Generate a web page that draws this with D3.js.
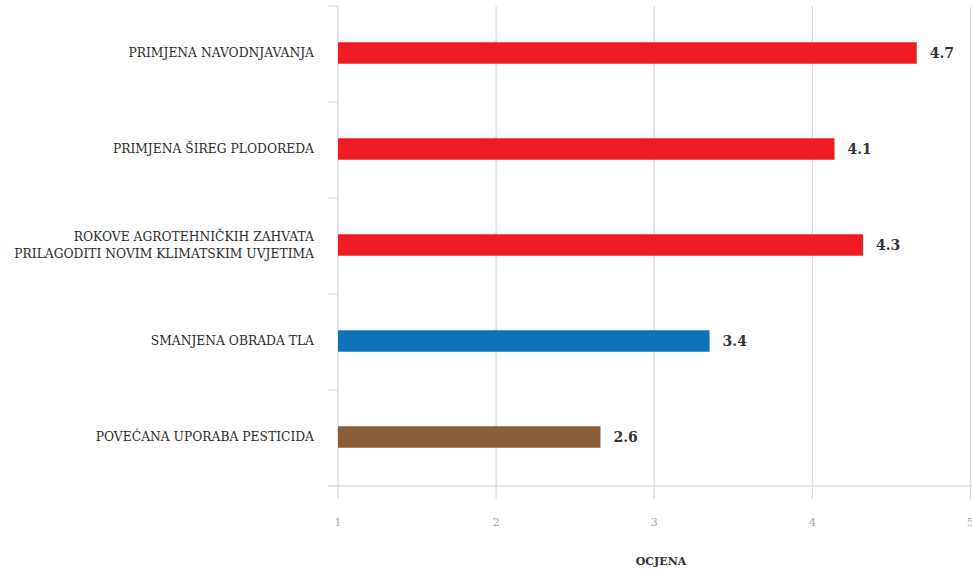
<!DOCTYPE html>
<html>
<head>
<meta charset="utf-8">
<script src="https://cdn.jsdelivr.net/npm/d3@7/dist/d3.min.js"></script>
<style>
  html, body { margin: 0; padding: 0; background: #ffffff; }
  svg { display: block; }
</style>
</head>
<body>
<script>
// ---- data ----
const categories = [
  "PRIMJENA NAVODNJAVANJA",
  "PRIMJENA ŠIREG PLODOREDA",
  "ROKOVE AGROTEHNIČKIH ZAHVATA\nPRILAGODITI NOVIM KLIMATSKIM UVJETIMA",
  "SMANJENA OBRADA TLA",
  "POVEĆANA UPORABA PESTICIDA"
];
const values = [4.66, 4.14, 4.32, 3.35, 2.66];
const valueLabels = ["4.7", "4.1", "4.3", "3.4", "2.6"];
const barColors = ["#ED1C24", "#ED1C24", "#ED1C24", "#0E72BA", "#8A5D3B"];
const xTicks = [1, 2, 3, 4, 5];
const xTitle = "OCJENA";

// ---- layout ----
const W = 972, H = 569;
const svg = d3.select("body").append("svg").attr("width", W).attr("height", H);

const x = d3.scaleLinear().domain([1, 5]).range([338, 970.5]);
const y = d3.scaleBand().domain(categories).range([6, 486]).paddingInner(0).paddingOuter(0);
const barH = 21.5;
const serif = "'DejaVu Serif', 'Liberation Serif', serif";
const gridColor = "#dcdcdc";

// vertical grid lines (extend below axis as ticks)
svg.append("g").selectAll("line").data(xTicks).join("line")
  .attr("x1", d => x(d)).attr("x2", d => x(d))
  .attr("y1", 6).attr("y2", 499)
  .attr("stroke", gridColor).attr("stroke-width", 1.3);

// horizontal axis line
svg.append("line")
  .attr("x1", 328).attr("x2", W).attr("y1", 486).attr("y2", 486)
  .attr("stroke", gridColor).attr("stroke-width", 1.3);

// left category ticks at band boundaries
const boundaries = categories.map(c => y(c)).concat([y.range()[1]]);
svg.append("g").selectAll("line").data(boundaries).join("line")
  .attr("x1", 328).attr("x2", 338)
  .attr("y1", d => d).attr("y2", d => d)
  .attr("stroke", gridColor).attr("stroke-width", 1.3);

// x tick labels
svg.append("g").selectAll("text").data(xTicks).join("text")
  .attr("x", d => x(d)).attr("y", 526)
  .attr("text-anchor", "middle")
  .attr("font-family", serif).attr("font-size", 11.5)
  .attr("fill", "#aaaaaa")
  .text(d => d);

// axis title
svg.append("text")
  .attr("x", 661).attr("y", 565)
  .attr("text-anchor", "middle")
  .attr("font-family", serif).attr("font-size", 11).attr("font-weight", "bold")
  .attr("fill", "#333")
  .text(xTitle);

// bars
const rows = categories.map((c, i) => ({ c, v: values[i], lab: valueLabels[i], col: barColors[i] }));
svg.append("g").selectAll("rect").data(rows).join("rect")
  .attr("x", x(1))
  .attr("y", d => y(d.c) + y.bandwidth() / 2 - barH / 2 - 1)
  .attr("width", d => x(d.v) - x(1))
  .attr("height", barH)
  .attr("fill", d => d.col);

// value labels
svg.append("g").selectAll("text").data(rows).join("text")
  .attr("x", d => x(d.v) + 13)
  .attr("y", d => y(d.c) + y.bandwidth() / 2 - 1)
  .attr("dy", "0.36em")
  .attr("font-family", serif).attr("font-size", 14).attr("font-weight", "bold")
  .attr("fill", "#333")
  .text(d => d.lab);

// category labels
const catG = svg.append("g");
rows.forEach(d => {
  const lines = d.c.split("\n");
  const lh = 17;
  const cy = y(d.c) + y.bandwidth() / 2 - 1;
  const t = catG.append("text")
    .attr("text-anchor", "end")
    .attr("font-family", serif).attr("font-size", 12.3)
    .attr("fill", "#2b2b2b");
  lines.forEach((ln, j) => {
    t.append("tspan")
      .attr("x", 314)
      .attr("y", cy + (j - (lines.length - 1) / 2) * lh)
      .attr("dy", "0.36em")
      .text(ln);
  });
});
</script>
</body>
</html>
